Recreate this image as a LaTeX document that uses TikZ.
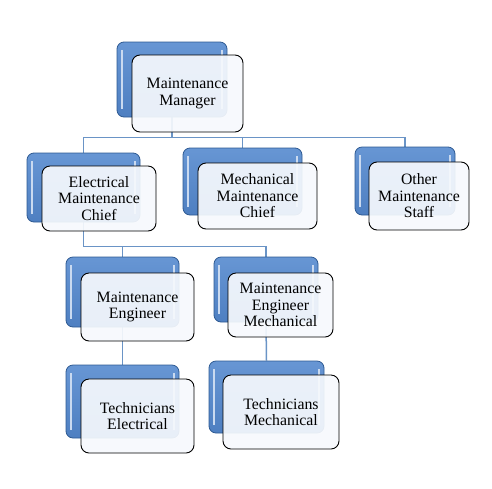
\documentclass[tikz,border=0pt]{standalone}
\usepackage{fontspec}
\setmainfont{Liberation Serif}
\usetikzlibrary{backgrounds}
\definecolor{bluetop}{HTML}{6796D4}
\definecolor{bluebot}{HTML}{4E7FC1}
\definecolor{blueedge}{HTML}{2E5A92}
\definecolor{linkblue}{HTML}{6A94C6}
\definecolor{cardfill}{HTML}{F6F9FD}

\tikzstyle{back}=[rounded corners=7pt, draw=blueedge, line width=0.8pt, top color=bluetop, bottom color=bluebot,
  path picture={
    \draw[white!65!bluetop, line width=2.5pt, sharp corners] ([xshift=5pt,yshift=-8pt]path picture bounding box.north west) -- ([xshift=5pt,yshift=8pt]path picture bounding box.south west);
    \draw[white!65!bluetop, line width=2.5pt, sharp corners] ([xshift=-5pt,yshift=-8pt]path picture bounding box.north east) -- ([xshift=-5pt,yshift=8pt]path picture bounding box.south east);
  }]
\tikzstyle{card}=[rounded corners=8pt, draw=black, line width=0.9pt, fill=cardfill, fill opacity=0.92, text opacity=1,
  align=center, inner sep=0pt, font=\rmfamily\fontsize{15.8}{16.5}\selectfont]
\tikzstyle{link}=[draw=linkblue, line width=1.5pt]

\begin{document}
\begin{tikzpicture}[x=1pt, y=-1pt]
            \useasboundingbox (0,0) rectangle (492,488);
            % shaded boxes behind
            \node[back, minimum width=110pt, minimum height=75pt] at (172,79.5) (mgrb) {};
            \node[back, minimum width=113pt, minimum height=69pt] at (83.5,187.5) (elcb) {};
            \node[back, minimum width=119pt, minimum height=67pt] at (242.5,181.5) (mecb) {};
            \node[back, minimum width=100pt, minimum height=68pt] at (405,181) (othb) {};
            \node[back, minimum width=113pt, minimum height=70pt] at (122.5,292) (engb) {};
            \node[back, minimum width=104pt, minimum height=65pt] at (266,289.5) (engmb) {};
            \node[back, minimum width=113pt, minimum height=73pt] at (122.5,401.5) (tecb) {};
            \node[back, minimum width=115pt, minimum height=72pt] at (266.5,397) (tecmb) {};
            % cards in front
            \node[card, minimum width=111pt, minimum height=77pt] at (187.5,93.5) (mgr) {Maintenance\\Manager};
            \node[card, minimum width=114pt, minimum height=65pt] at (99,198.5) (elc) {Electrical\\Maintenance\\Chief};
            \node[card, minimum width=119pt, minimum height=66pt] at (257.5,196) (mec) {Mechanical\\Maintenance\\Chief};
            \node[card, minimum width=100pt, minimum height=68pt] at (419,196) (oth) {Other\\Maintenance\\Staff};
            \node[card, minimum width=113pt, minimum height=68pt] at (137.5,307) (eng) {Maintenance\\Engineer};
            \node[card, minimum width=105pt, minimum height=64pt] at (280.5,305) (engm) {Maintenance\\Engineer\\Mechanical};
            \node[card, minimum width=113pt, minimum height=74pt] at (137.5,416) (tec) {Technicians\\Electrical};
            \node[card, minimum width=116pt, minimum height=74pt] at (281,412) (tecm) {Technicians\\Mechanical};
            % connectors
            \begin{scope}[on background layer]
            \draw[link] (mgrb.south) -- ++(0,20) -| (elcb.north);
            \draw[link] (mgrb.south) -- ++(0,20) -| (mecb.north);
            \draw[link] (mgrb.south) -- ++(0,20) -| (othb.north);
            \draw[link] (elcb.south) -- ++(0,24) -| (engb.north);
            \draw[link] (elcb.south) -- ++(0,24) -| (engmb.north);
            \draw[link] (engb.south) -- (tecb.north);
            \draw[link] (engmb.south) -- (tecmb.north);
            \end{scope}
        \end{tikzpicture}
\end{document}
